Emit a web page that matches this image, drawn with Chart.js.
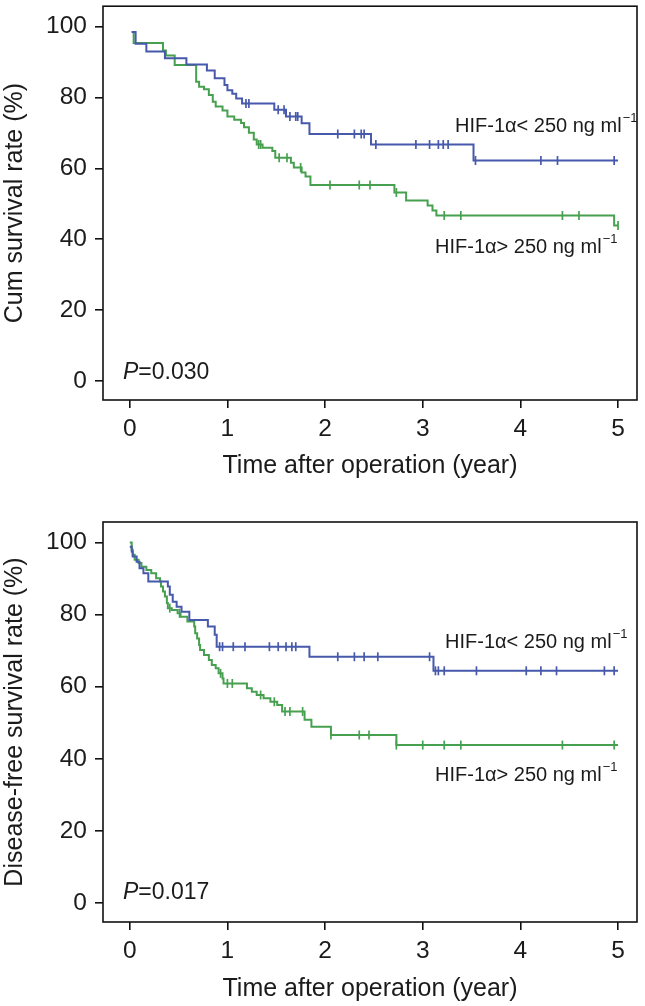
<!DOCTYPE html>
<html lang="en">
<head>
  <meta charset="UTF-8">
  <title>HIF-1α survival curves</title>
  <style>
    body { margin: 0; background: #fff; }
    .wrap { position: relative; width: 645px; height: 1006px; }
    canvas { position: absolute; left: 0; display: block; }
    #os { top: 0; }
    #dfs { top: 500px; }
  </style>
</head>
<body>
  <div class="wrap">
    <canvas id="os" width="645" height="500"></canvas>
    <canvas id="dfs" width="645" height="506"></canvas>
  </div>

  <script src="https://cdn.jsdelivr.net/npm/chart.js"></script>
  <script>
    // Axis ticks
    const xTicks = [0, 1, 2, 3, 4, 5];
    const yTicks = [0, 20, 40, 60, 80, 100];

    // Overall survival (top) - step times (years) and survival (%)
    const osLowT = [0.02, 0.06, 0.17, 0.36, 0.58, 0.79, 0.87, 0.97, 1.00, 1.05, 1.09, 1.15, 1.48, 1.60, 1.76, 1.84, 2.47, 3.52, 5.0];
    const osLowS = [98.4, 95.1, 92.9, 91.0, 89.3, 87.6, 85.4, 83.5, 82.0, 81.0, 79.7, 78.3, 76.5, 74.6, 72.7, 69.7, 66.7, 62.2, 62.2];
    const osLowCens = [1.19, 1.22, 1.52, 1.58, 1.64, 1.70, 1.72, 2.13, 2.30, 2.37, 2.40, 2.52, 2.93, 3.07, 3.16, 3.21, 3.26, 3.54, 4.21, 4.38, 4.96];

    const osHighT = [0.02, 0.04, 0.34, 0.37, 0.46, 0.68, 0.71, 0.76, 0.81, 0.85, 0.88, 0.95, 1.00, 1.07, 1.14, 1.17, 1.22, 1.27, 1.30, 1.36, 1.46, 1.49, 1.65, 1.68, 1.76, 1.80, 1.85, 2.71, 2.83, 3.05, 3.10, 3.14, 4.96, 5.0];
    const osHighS = [98.4, 95.3, 93.2, 91.8, 89.1, 84.4, 83.0, 82.3, 80.7, 78.8, 77.4, 76.3, 74.6, 73.7, 72.8, 71.6, 70.0, 68.1, 66.7, 65.8, 64.9, 63.0, 61.6, 60.2, 58.8, 57.7, 55.3, 53.2, 50.9, 49.5, 48.1, 46.7, 43.9, 43.9];
    const osHighCens = [1.32, 1.34, 1.53, 1.61, 1.75, 2.05, 2.35, 2.46, 2.73, 3.22, 3.39, 4.43, 4.60, 5.0];

    // Disease-free survival (bottom)
    const dfsLowT = [0, 0.02, 0.03, 0.07, 0.10, 0.14, 0.19, 0.39, 0.41, 0.44, 0.48, 0.53, 0.61, 0.80, 0.87, 0.89, 1.84, 3.11, 5.0];
    const dfsLowS = [98.8, 97.5, 96.1, 94.7, 92.9, 91.5, 89.2, 87.8, 85.5, 83.6, 82.2, 80.8, 78.5, 76.7, 74.4, 71.1, 68.3, 64.4, 64.4];
    const dfsLowCens = [0.92, 0.95, 1.06, 1.18, 1.43, 1.52, 1.60, 1.66, 1.70, 2.13, 2.30, 2.40, 2.54, 3.07, 3.13, 3.16, 3.22, 3.55, 4.06, 4.21, 4.37, 4.86, 4.96];

    const dfsHighT = [0, 0.02, 0.03, 0.05, 0.09, 0.12, 0.17, 0.22, 0.27, 0.31, 0.32, 0.34, 0.36, 0.38, 0.39, 0.43, 0.49, 0.52, 0.59, 0.66, 0.67, 0.69, 0.71, 0.72, 0.76, 0.81, 0.84, 0.88, 0.91, 0.95, 0.96, 1.20, 1.25, 1.30, 1.37, 1.44, 1.51, 1.56, 1.79, 1.86, 2.06, 2.73, 5.0];
    const dfsHighS = [100, 98.0, 96.6, 95.2, 94.3, 93.3, 92.4, 91.5, 90.1, 89.2, 87.8, 86.4, 85.0, 83.2, 81.8, 81.3, 80.4, 79.4, 78.1, 76.7, 74.8, 73.4, 71.6, 70.2, 68.8, 67.4, 66.0, 65.1, 63.7, 62.3, 60.9, 59.6, 58.6, 57.7, 56.8, 55.8, 54.9, 53.1, 50.8, 48.9, 46.6, 43.8, 43.8];
    const dfsHighCens = [0.41, 0.51, 0.93, 1.00, 1.05, 1.34, 1.48, 1.59, 1.64, 1.77, 2.06, 2.35, 2.45, 2.73, 3.00, 3.22, 3.39, 4.43, 4.96];

    const BLUE = '#4659ab';
    const GREEN = '#46a04f';
    const INK = '#1b1b1b';
    const FONT = '"Liberation Sans", Arial, Helvetica, sans-serif';

    // survival value of a step curve at time t
    function stepAt(T, S, t) {
      let v = S[0];
      for (let i = 0; i < T.length; i++) if (T[i] <= t + 1e-9) v = S[i];
      return v;
    }

    function curve(T, S, color) {
      return {
        data: T.map((t, i) => ({ x: t, y: S[i] })),
        borderColor: color, borderWidth: 2, stepped: 'before',
        pointRadius: 0, fill: false
      };
    }

    function censors(C, T, S, color) {
      return {
        data: C.map(t => ({ x: t, y: stepAt(T, S, t) })),
        showLine: false, pointStyle: 'line', rotation: 90,
        pointRadius: 4.5, pointBorderWidth: 1.7, borderColor: color, backgroundColor: color
      };
    }

    // box around plot area + text notes
    const frame = {
      id: 'frame',
      afterDraw(chart, args, opts) {
        const { ctx, chartArea: a } = chart;
        ctx.save();
        ctx.strokeStyle = '#111';
        ctx.lineWidth = 1.6;
        ctx.strokeRect(a.left, a.top, a.right - a.left, a.bottom - a.top);
        ctx.fillStyle = INK;
        ctx.textBaseline = 'alphabetic';
        (opts.notes || []).forEach(n => {
          ctx.font = '20px ' + FONT;
          ctx.fillText(n.text, n.x, n.y);
          const w = ctx.measureText(n.text).width;
          ctx.font = '13px ' + FONT;
          ctx.fillText('\u22121', n.x + w + 1, n.y - 10);
        });
        if (opts.p) {
          ctx.font = 'italic 23px ' + FONT;
          ctx.fillText('P', opts.p.x, opts.p.y);
          const w = ctx.measureText('P').width;
          ctx.font = '23px ' + FONT;
          ctx.fillText('=' + opts.p.text, opts.p.x + w, opts.p.y);
        }
        ctx.restore();
      }
    };

    function noPad(s) {
      s.paddingTop = 0; s.paddingBottom = 0; s.paddingLeft = 0; s.paddingRight = 0;
    }

    function makeChart(id, datasets, yTitle, notes, p, padTop, xHeight, xTitlePad) {
      return new Chart(document.getElementById(id), {
        type: 'line',
        data: { datasets },
        plugins: [frame],
        options: {
          responsive: false,
          animation: false,
          layout: { padding: { top: padTop, right: 8, left: 0, bottom: 0 } },
          plugins: {
            legend: { display: false },
            tooltip: { enabled: false },
            frame: { notes, p }
          },
          scales: {
            x: {
              type: 'linear', min: -0.274, max: 5.194,
              afterBuildTicks: s => { s.ticks = xTicks.map(v => ({ value: v })); },
              afterFit: s => { s.height = xHeight; noPad(s); },
              border: { display: false },
              grid: { drawOnChartArea: false, drawTicks: true, tickLength: 8, color: '#111', lineWidth: 1.6 },
              ticks: { color: INK, font: { family: FONT, size: 24.5 }, padding: 7, maxRotation: 0 },
              title: { display: true, text: 'Time after operation (year)', color: INK,
                       font: { family: FONT, size: 25 }, padding: { top: 0, bottom: xTitlePad } }
            },
            y: {
              type: 'linear', min: -5.3, max: 105.7,
              afterBuildTicks: s => { s.ticks = yTicks.map(v => ({ value: v })); },
              afterFit: s => { s.width = 103; noPad(s); },
              border: { display: false },
              grid: { drawOnChartArea: false, drawTicks: true, tickLength: 8, color: '#111', lineWidth: 1.6 },
              ticks: { color: INK, font: { family: FONT, size: 24.5 }, padding: 8 },
              title: { display: true, text: yTitle, color: INK,
                       font: { family: FONT, size: 25 }, padding: { top: 0, bottom: 0 } }
            }
          }
        }
      });
    }

    makeChart('os', [
      curve(osLowT, osLowS, BLUE),
      curve(osHighT, osHighS, GREEN),
      censors(osLowCens, osLowT, osLowS, BLUE),
      censors(osHighCens, osHighT, osHighS, GREEN)
    ], 'Cum survival rate (%)', [
      { text: 'HIF-1\u03b1< 250 ng ml', x: 455, y: 132 },
      { text: 'HIF-1\u03b1> 250 ng ml', x: 435, y: 253 }
    ], { text: '0.030', x: 123, y: 379 }, 3, 100, 19);

    makeChart('dfs', [
      curve(dfsLowT, dfsLowS, BLUE),
      curve(dfsHighT, dfsHighS, GREEN),
      censors(dfsLowCens, dfsLowT, dfsLowS, BLUE),
      censors(dfsHighCens, dfsHighT, dfsHighS, GREEN)
    ], 'Disease-free survival rate (%)', [
      { text: 'HIF-1\u03b1< 250 ng ml', x: 445, y: 148 },
      { text: 'HIF-1\u03b1> 250 ng ml', x: 435, y: 281 }
    ], { text: '0.017', x: 123, y: 399 }, 22, 84, 2);
  </script>
</body>
</html>
